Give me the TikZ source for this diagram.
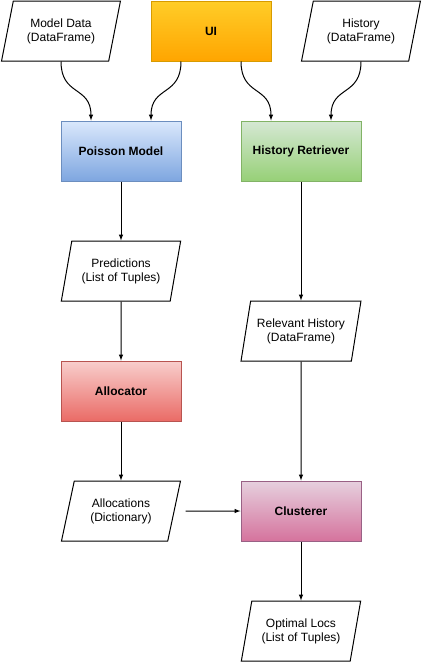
\documentclass[tikz,border=0pt]{standalone}
\usepackage{fontspec}
\setmainfont{Liberation Sans}
\usetikzlibrary{shapes.geometric}
\definecolor{uitop}{HTML}{FFCD28}
\definecolor{uibot}{HTML}{FFA500}
\definecolor{uiline}{HTML}{D79B00}
\definecolor{bluetop}{HTML}{DAE8FC}
\definecolor{bluebot}{HTML}{7EA6E0}
\definecolor{blueline}{HTML}{6C8EBF}
\definecolor{greentop}{HTML}{D5E8D4}
\definecolor{greenbot}{HTML}{97D077}
\definecolor{greenline}{HTML}{82B366}
\definecolor{redtop}{HTML}{F8CECC}
\definecolor{redbot}{HTML}{EA6B66}
\definecolor{redline}{HTML}{B85450}
\definecolor{pinktop}{HTML}{E6D0DE}
\definecolor{pinkbot}{HTML}{D5739D}
\definecolor{pinkline}{HTML}{996185}
\begin{document}
\begin{tikzpicture}[x=1pt,y=-1pt,line width=1pt]
      \tikzstyle{every node}=[font=\fontsize{12}{14}\selectfont,align=center]
      \tikzstyle{data}=[draw,trapezium,trapezium left angle=71.57,trapezium right angle=108.43,
        trapezium stretches=true,minimum width=120pt,minimum height=60pt,inner sep=0pt]
      \tikzstyle{block}=[draw,minimum width=120pt,minimum height=60pt,
        font=\fontsize{12}{14}\selectfont\bfseries]
      \useasboundingbox (0,0) rectangle (424,664);

      \node[data] (mdata) at (61,31) {Model Data\\(DataFrame)};
      \node[block,draw=uiline,top color=uitop,bottom color=uibot] (ui) at (211,31) {UI};
      \node[data] (hist) at (361,31) {History\\(DataFrame)};
      \node[block,draw=blueline,top color=bluetop,bottom color=bluebot] (poisson) at (121,151) {Poisson Model};
      \node[block,draw=greenline,top color=greentop,bottom color=greenbot] (retr) at (301,151) {History Retriever};
      \node[data] (pred) at (121,271) {Predictions\\(List of Tuples)};
      \node[data] (relhist) at (301,331) {Relevant History\\(DataFrame)};
      \node[block,draw=redline,top color=redtop,bottom color=redbot] (alloc) at (121,391) {Allocator};
      \node[data] (allocs) at (121,511) {Allocations\\(Dictionary)};
      \node[block,draw=pinkline,top color=pinktop,bottom color=pinkbot] (clust) at (301,511) {Clusterer};
      \node[data] (optlocs) at (301,631) {Optimal Locs\\(List of Tuples)};

      \draw[-latex] (mdata.south) .. controls +(0,35) and +(0,-35) .. ([xshift=-30pt]poisson.north);
      \draw[-latex] ([xshift=-30pt]ui.south) .. controls +(0,35) and +(0,-35) .. ([xshift=30pt]poisson.north);
      \draw[-latex] ([xshift=30pt]ui.south) .. controls +(0,35) and +(0,-35) .. ([xshift=-30pt]retr.north);
      \draw[-latex] (hist.south) .. controls +(0,35) and +(0,-35) .. ([xshift=30pt]retr.north);
      \draw[-latex] (poisson) -- (pred);
      \draw[-latex] (pred) -- (alloc);
      \draw[-latex] (alloc) -- (allocs);
      \draw[-latex] (retr) -- (relhist);
      \draw[-latex] (relhist) -- (clust);
      \draw[-latex] ([xshift=11pt]allocs.east) -- (clust.west);
      \draw[-latex] (clust) -- (optlocs);
    \end{tikzpicture}
\end{document}
